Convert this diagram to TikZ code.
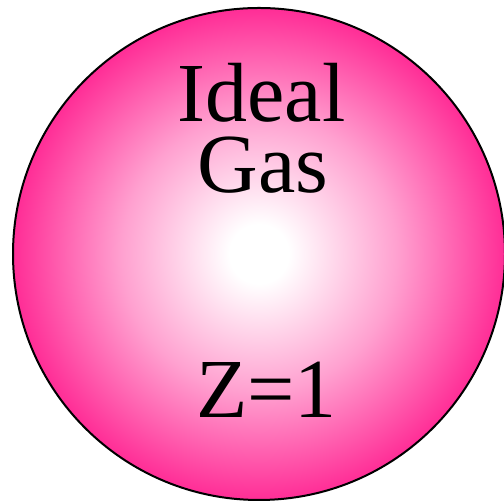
\documentclass[tikz,border=0pt]{standalone}
\usepackage{fontspec}
\setmainfont{Liberation Serif}
\definecolor{ballpink}{RGB}{255,45,150}
\pgfdeclareradialshading{gasball}{\pgfpoint{0bp}{0bp}}{color(0bp)=(white); color(3bp)=(white); color(14bp)=(ballpink!45!white); color(25bp)=(ballpink); color(50bp)=(ballpink)}
\begin{document}
\begin{tikzpicture}[x=1pt, y=1pt,
    ball/.style={circle, draw=black, line width=2pt, shade, shading=gasball, minimum size=492pt, inner sep=0pt},
    gastext/.style={font=\fontsize{84}{84}\selectfont, inner sep=0pt, anchor=base}]
\useasboundingbox (0,0) rectangle (504,502);
\node (sphere) [ball] at (259,248) {};
\node (ideal) [gastext] at (261.5,380) {Ideal};
\node (gas) [gastext] at (263,309) {Gas};
\node (zeq) [gastext] at (266.5,84) {Z=1};
\end{tikzpicture}
\end{document}
